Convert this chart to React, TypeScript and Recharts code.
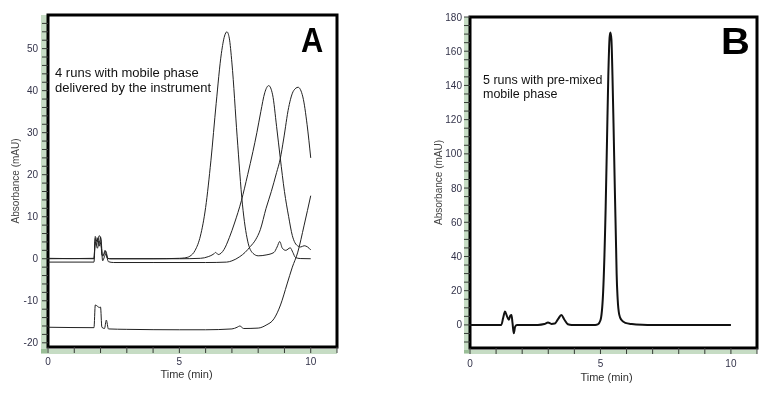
import React from 'react';
import { LineChart, Line, XAxis, YAxis, ReferenceArea, Label } from 'recharts';

// ---- Data (time in min, absorbance in mAU) ----
const runA1: [number, number][] = [
  [0, 0], [1.75, 0.1], [1.8, 4.8], [1.85, 3.2], [1.9, 5.0], [1.95, 3.0], [2.0, 5.2], [2.05, 1.0], [2.1, 0.6],
  [2.17, 2.0], [2.25, 0.2], [2.35, 0], [4, 0], [5.0, 0.1], [5.2, 0.2], [5.4, 0.6], [5.6, 2.0], [5.8, 5.4],
  [6.0, 12.2], [6.2, 23.3], [6.4, 36.9], [6.6, 48.9], [6.72, 53], [6.81, 54], [6.9, 52.5], [7.0, 46.6],
  [7.2, 29], [7.4, 13], [7.6, 4.2], [7.8, 1.3], [8.0, 0.7], [8.3, 0.9], [8.6, 1.5], [8.72, 2.8], [8.82, 4.1],
  [8.92, 2.5], [9.05, 2.0], [9.22, 2.6], [9.32, 1.5], [9.42, 0.3], [9.6, 0.05], [10, 0],
];
const runA2: [number, number][] = [
  [0, 0.1], [1.75, 0], [1.8, 5.3], [1.87, 4.0], [1.95, 5.5], [2.02, 4.5], [2.07, 0.8], [2.12, 1.0], [2.2, 1.8],
  [2.28, 0.1], [2.4, 0], [5, 0], [5.8, 0.1], [6.1, 0.5], [6.3, 1.1], [6.38, 1.5], [6.48, 1.0], [6.7, 2.2],
  [6.9, 5], [7.1, 8.5], [7.36, 13.8], [7.6, 20], [7.8, 25.5], [7.95, 30], [8.1, 35], [8.25, 39.5], [8.4, 41.2],
  [8.55, 39], [8.7, 31.5], [8.84, 24], [9.0, 16], [9.16, 10], [9.3, 5.5], [9.4, 3.8], [9.52, 3.0], [9.62, 2.8],
  [9.75, 3.1], [9.88, 2.8], [10, 2.1],
];
const runA3: [number, number][] = [
  [0, -0.8], [1.75, -0.8], [1.8, 4.0], [1.88, 2.5], [1.95, 4.2], [2.03, 2.8], [2.08, -0.5], [2.15, 0.5],
  [2.2, 1.2], [2.3, -0.7], [2.5, -0.9], [4, -0.9], [6, -0.9], [6.8, -0.8], [7.0, -0.5], [7.3, 0.5], [7.5, 1.5],
  [7.7, 2.9], [7.9, 4.5], [8.08, 6.9], [8.3, 12], [8.5, 16], [8.7, 20.5], [8.84, 23.8], [8.97, 28.5],
  [9.16, 36], [9.35, 40], [9.52, 40.8], [9.7, 38.5], [9.86, 32], [10, 24],
];
const runA4: [number, number][] = [
  [0, -16.3], [1.75, -16.4], [1.8, -11], [1.88, -11.3], [1.95, -11.6], [2.0, -11.5], [2.05, -16.3],
  [2.15, -16.6], [2.22, -14.6], [2.3, -16.7], [3, -16.8], [5, -16.9], [6, -16.9], [7, -16.7], [7.2, -16.3],
  [7.3, -16.0], [7.45, -16.6], [8, -16.5], [8.3, -15.8], [8.6, -14.3], [8.85, -11], [9.1, -6], [9.3, -2],
  [9.5, 1.4], [9.75, 8], [10, 15],
];
const runB: [number, number][] = [
  [0, 0], [1.2, 0], [1.27, 4], [1.34, 7.8], [1.42, 5], [1.49, 3], [1.55, 5.5], [1.59, 5.8], [1.63, 1],
  [1.68, -4.9], [1.73, -1], [1.8, 0], [2.6, 0], [2.85, 0.5], [2.99, 1.4], [3.12, 0.6], [3.25, 0.8],
  [3.38, 3.5], [3.5, 5.8], [3.62, 3], [3.75, 0.4], [3.9, 0], [4.8, 0], [4.9, 0.3], [5.0, 2.7], [5.1, 18.3],
  [5.2, 69], [5.25, 107], [5.3, 145], [5.35, 168], [5.38, 171], [5.42, 167], [5.46, 146], [5.5, 118],
  [5.55, 80], [5.6, 45], [5.62, 30], [5.66, 15], [5.72, 6], [5.8, 3], [5.95, 1.2], [6.2, 0.5], [6.6, 0.1],
  [7, 0], [10, 0],
];

const xTicks = [0, 1, 2, 3, 4, 5, 6, 7, 8, 9, 10, 11];
const yTicksA = [-20, -18, -16, -14, -12, -10, -8, -6, -4, -2, 0, 2, 4, 6, 8, 10, 12, 14, 16, 18, 20, 22, 24, 26,
  28, 30, 32, 34, 36, 38, 40, 42, 44, 46, 48, 50, 52, 54, 56];
const yTicksB = [-10, -5, 0, 5, 10, 15, 20, 25, 30, 35, 40, 45, 50, 55, 60, 65, 70, 75, 80, 85, 90, 95, 100,
  105, 110, 115, 120, 125, 130, 135, 140, 145, 150, 155, 160, 165, 170, 175, 180];

const toPts = (arr: [number, number][]) => arr.map(([t, v]) => ({ t, v }));

const FONT = '"Liberation Sans", Arial, sans-serif';
const GREEN = '#c6dcc4';
const tickStyle = { fontSize: 10, fill: '#33334a', fontFamily: FONT };
const band = (left: number, top: number, width: number, height: number): React.CSSProperties => ({
  position: 'absolute', left, top, width, height, background: GREEN, mixBlendMode: 'multiply', pointerEvents: 'none',
});

export default function App() {
  return (
    <div style={{ position: 'absolute', left: 0, top: 0, width: 780, height: 399, background: '#fff', overflow: 'hidden', fontFamily: FONT, isolation: 'isolate' }}>
      <div style={{ position: 'absolute', left: 0, top: 0 }}>
        <LineChart width={390} height={399} margin={{ top: 15, right: 53, bottom: 0, left: 0 }}>
          <XAxis type="number" dataKey="t" domain={[0, 11]} ticks={xTicks} interval={0} allowDataOverflow
            tickFormatter={(v: number) => (v % 5 === 0 ? String(v) : '')} tickSize={6} tickMargin={5}
            axisLine={false} tickLine={{ stroke: '#444' }} tick={tickStyle} height={52}>
            <Label value="Time (min)" position="insideBottom" offset={21} dx={-6}
              style={{ fontSize: 11, fill: '#333', fontFamily: FONT }} />
          </XAxis>
          <YAxis type="number" domain={[-21, 58]} ticks={yTicksA} interval={0} allowDataOverflow
            tickFormatter={(v: number) => (v % 10 === 0 ? String(v) : '')} tickSize={6} tickMargin={4}
            axisLine={false} tickLine={{ stroke: '#444' }} tick={tickStyle} width={48}>
            <Label value="Absorbance (mAU)" angle={-90} position="insideLeft" offset={15}
              style={{ fontSize: 10, fill: '#444', fontFamily: FONT, textAnchor: 'middle' }} />
          </YAxis>
          <ReferenceArea x1={0} x2={11} y1={-21} y2={58} fill="none" stroke="#000" strokeWidth={3} ifOverflow="visible" />
          <Line data={toPts(runA4)} dataKey="v" type="monotone" stroke="#222" strokeWidth={1} dot={false} isAnimationActive={false} />
          <Line data={toPts(runA3)} dataKey="v" type="monotone" stroke="#222" strokeWidth={1} dot={false} isAnimationActive={false} />
          <Line data={toPts(runA2)} dataKey="v" type="monotone" stroke="#222" strokeWidth={1} dot={false} isAnimationActive={false} />
          <Line data={toPts(runA1)} dataKey="v" type="monotone" stroke="#222" strokeWidth={1} dot={false} isAnimationActive={false} />
        </LineChart>
      </div>

      <div style={{ position: 'absolute', left: 390, top: 0 }}>
        <LineChart width={390} height={399} margin={{ top: 17, right: 23, bottom: 0, left: 0 }}>
          <XAxis type="number" dataKey="t" domain={[0, 11]} ticks={xTicks} interval={0} allowDataOverflow
            tickFormatter={(v: number) => (v % 5 === 0 ? String(v) : '')} tickSize={6} tickMargin={6}
            axisLine={false} tickLine={{ stroke: '#444' }} tick={tickStyle} height={51}>
            <Label value="Time (min)" position="insideBottom" offset={18} dx={-7}
              style={{ fontSize: 11, fill: '#333', fontFamily: FONT }} />
          </XAxis>
          <YAxis type="number" domain={[-13.5, 180]} ticks={yTicksB} interval={0} allowDataOverflow
            tickFormatter={(v: number) => (v % 20 === 0 ? String(v) : '')} tickSize={6} tickMargin={2}
            axisLine={false} tickLine={{ stroke: '#444' }} tick={tickStyle} width={80}>
            <Label value="Absorbance (mAU)" angle={-90} position="insideLeft" offset={48}
              style={{ fontSize: 10, fill: '#444', fontFamily: FONT, textAnchor: 'middle' }} />
          </YAxis>
          <ReferenceArea x1={0} x2={11} y1={-13.5} y2={180} fill="none" stroke="#000" strokeWidth={3} ifOverflow="visible" />
          <Line data={toPts(runB)} dataKey="v" type="monotone" stroke="#111" strokeWidth={2} dot={false} isAnimationActive={false} />
        </LineChart>
      </div>

      {/* green axis bands (multiplied over the ticks) */}
      <div style={band(41, 15, 6, 338)} />
      <div style={band(41, 349, 296, 5)} />
      <div style={band(464, 17, 5, 336)} />
      <div style={band(464, 350, 293, 4)} />

      {/* annotations */}
      <div style={{ position: 'absolute', left: 55, top: 65, fontSize: 13, lineHeight: '15px', color: '#111', whiteSpace: 'nowrap' }}>
        4 runs with mobile phase<br />delivered by the instrument
      </div>
      <div style={{ position: 'absolute', left: 483, top: 73, fontSize: 12.5, lineHeight: '14px', color: '#111', whiteSpace: 'nowrap' }}>
        5 runs with pre-mixed<br />mobile phase
      </div>
      <div style={{ position: 'absolute', left: 301, top: 22, fontSize: 35, lineHeight: '35px', fontWeight: 'bold', color: '#000', transform: 'scaleX(0.88)', transformOrigin: 'left top' }}>
        A
      </div>
      <div style={{ position: 'absolute', left: 721, top: 23, fontSize: 37, lineHeight: '37px', fontWeight: 'bold', color: '#000', transform: 'scaleX(1.08)', transformOrigin: 'left top' }}>
        B
      </div>
    </div>
  );
}
